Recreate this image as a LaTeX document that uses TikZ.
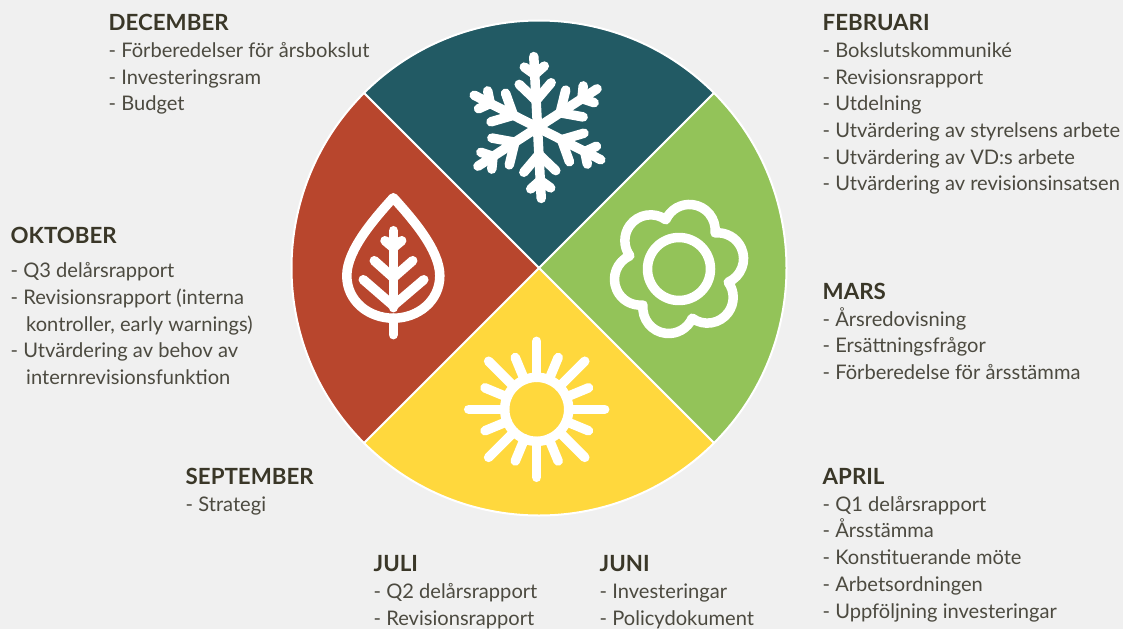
\documentclass[tikz,border=0pt]{standalone}
\usepackage{fontspec}
\setmainfont{Lato}
\definecolor{bgc}{HTML}{F0F0F0}
\definecolor{teal}{HTML}{225A64}
\definecolor{grn}{HTML}{93C359}
\definecolor{yel}{HTML}{FFD83D}
\definecolor{rst}{HTML}{B8462D}
\definecolor{head}{HTML}{3A3728}
\definecolor{body}{HTML}{4C4A40}
\tikzset{
  wedgefill/.style={draw=white,line width=2pt,line join=round},
  icon/.style={draw=white,line width=9.5pt,line cap=round,line join=round},
  hd/.style={anchor=base west,inner sep=0pt,text=head,font=\fontsize{22.3}{26}\selectfont\bfseries},
  it/.style={anchor=base west,inner sep=0pt,text=body,font=\fontsize{20.1}{26}\selectfont}
}
\begin{document}
\begin{tikzpicture}[x=1pt,y=1pt]
\useasboundingbox (0,-629) rectangle (1123,0);
\fill[bgc] (0,-629) rectangle (1123,0);
\coordinate (c) at (539,-268);
\def\R{247.5pt}
\filldraw[wedgefill,fill=teal] (c) -- ++(135:\R) arc[start angle=135,end angle=45,radius=\R] -- cycle;
\filldraw[wedgefill,fill=grn] (c) -- ++(45:\R) arc[start angle=45,end angle=-45,radius=\R] -- cycle;
\filldraw[wedgefill,fill=yel] (c) -- ++(-45:\R) arc[start angle=-45,end angle=-135,radius=\R] -- cycle;
\filldraw[wedgefill,fill=rst] (c) -- ++(-135:\R) arc[start angle=-135,end angle=-225,radius=\R] -- cycle;
% snowflake
\begin{scope}[shift={(537.5,-127.5)},rotate=3]
\foreach \a in {0,60,...,300}{
  \begin{scope}[rotate=\a]
    \draw[icon] (0,0) -- (0,71);
    \draw[icon] (-16,44) -- (0,27) -- (16,44);
    \draw[icon] (-10,61) -- (0,53) -- (10,61);
  \end{scope}
}
\end{scope}
% flower
\begin{scope}[shift={(679,-269)}]
\draw[icon] (0,0) circle[radius=31.5];
\draw[icon] (45:51) arc[start angle=-6,end angle=156,radius=25.8]
  arc[start angle=54,end angle=216,radius=25.8]
  arc[start angle=114,end angle=276,radius=25.8]
  arc[start angle=174,end angle=336,radius=25.8]
  arc[start angle=234,end angle=396,radius=25.8]
  arc[start angle=294,end angle=456,radius=25.8] -- cycle;
\end{scope}
% leaf
\begin{scope}[shift={(393.3,-197.7)}]
\draw[icon] (0,0) .. controls (-18,-20) and (-46.5,-52) .. (-46.5,-78)
  .. controls (-46.5,-103) and (-25,-120.5) .. (0,-120.5)
  .. controls (25,-120.5) and (46.5,-103) .. (46.5,-78)
  .. controls (46.5,-52) and (18,-20) .. (0,0) -- cycle;
\draw[icon] (0,-120.5) -- (0,-137);
\draw[icon] (0,-33) -- (0,-110);
\draw[icon] (-30,-82) -- (0,-108) -- (30.5,-82);
\draw[icon] (-19,-63) -- (0,-80) -- (19.4,-63);
\draw[icon] (-8.3,-43) -- (0,-50) -- (8.4,-43);
\end{scope}
% sun
\begin{scope}[shift={(536.7,-409.3)}]
\draw[icon] (0,0) circle[radius=32];
\foreach \a in {0,45,...,315}{ \draw[icon] (\a:32) -- (\a:68); }
\foreach \a in {22.5,67.5,...,337.5}{ \draw[icon] (\a:32) -- (\a:56); }
\end{scope}
% labels
\node[hd] (dech) at (108.5,-30) {DECEMBER};
\node[it] (dec1) at (108.5,-57) {- Förberedelser för årsbokslut};
\node[it] (dec2) at (108.5,-84) {- Investeringsram};
\node[it] (dec3) at (108.5,-110) {- Budget};
\node[hd] (febh) at (822.5,-30) {FEBRUARI};
\node[it] (feb1) at (822.5,-57) {- Bokslutskommuniké};
\node[it] (feb2) at (822.5,-84) {- Revisionsrapport};
\node[it] (feb3) at (822.5,-110) {- Utdelning};
\node[it] (feb4) at (822.5,-137) {- Utvärdering av styrelsens arbete};
\node[it] (feb5) at (822.5,-164) {- Utvärdering av VD:s arbete};
\node[it] (feb6) at (822.5,-190) {- Utvärdering av revisionsinsatsen};
\node[hd] (okth) at (10.5,-243) {OKTOBER};
\node[it] (okt1) at (10.5,-277) {- Q3 delårsrapport};
\node[it] (okt2) at (10.5,-304) {- Revisionsrapport (interna};
\node[it] (okt3) at (26,-331) {kontroller, early warnings)};
\node[it] (okt4) at (10.5,-357) {- Utvärdering av behov av};
\node[it] (okt5) at (26,-384) {internrevisionsfunktion};
\node[hd] (marh) at (822.5,-299) {MARS};
\node[it] (mar1) at (822.5,-326) {- Årsredovisning};
\node[it] (mar2) at (822.5,-352) {- Ersättningsfrågor};
\node[it] (mar3) at (822.5,-379) {- Förberedelse för årsstämma};
\node[hd] (seph) at (185.5,-484) {SEPTEMBER};
\node[it] (sep1) at (185.5,-511) {- Strategi};
\node[hd] (aprh) at (822.5,-484) {APRIL};
\node[it] (apr1) at (822.5,-511) {- Q1 delårsrapport};
\node[it] (apr2) at (822.5,-537) {- Årsstämma};
\node[it] (apr3) at (822.5,-564) {- Konstituerande möte};
\node[it] (apr4) at (822.5,-591) {- Arbetsordningen};
\node[it] (apr5) at (822.5,-618) {- Uppföljning investeringar};
\node[hd] (julh) at (373.5,-571) {JULI};
\node[it] (jul1) at (373.5,-598) {- Q2 delårsrapport};
\node[it] (jul2) at (373.5,-625) {- Revisionsrapport};
\node[hd] (junh) at (599.5,-571) {JUNI};
\node[it] (jun1) at (599.5,-598) {- Investeringar};
\node[it] (jun2) at (599.5,-625) {- Policydokument};
\end{tikzpicture}
\end{document}
